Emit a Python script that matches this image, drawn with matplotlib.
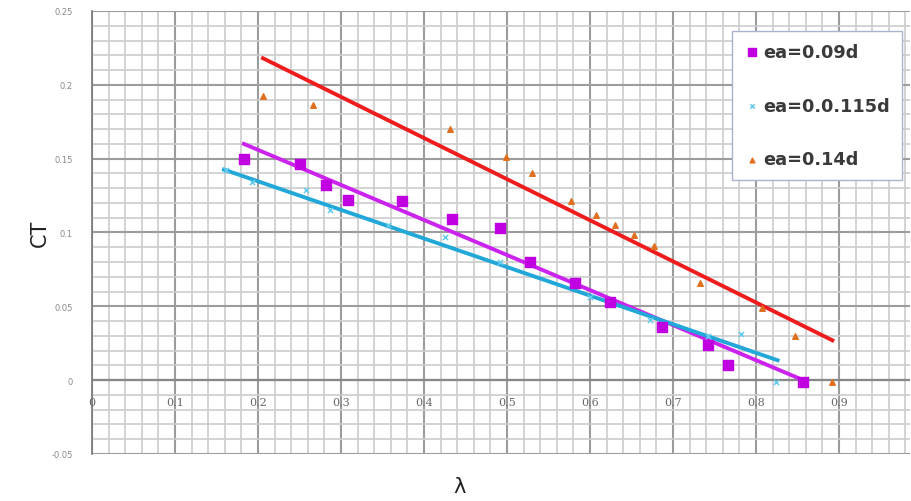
import matplotlib
matplotlib.use("Agg")
import matplotlib.pyplot as plt
from matplotlib.ticker import MultipleLocator
import numpy as np

# data
lam_09 = [0.183, 0.251, 0.282, 0.308, 0.373, 0.434, 0.492, 0.528, 0.582, 0.624, 0.687, 0.742, 0.766, 0.857]
ct_09 = [0.150, 0.1466, 0.132, 0.122, 0.121, 0.109, 0.103, 0.080, 0.066, 0.053, 0.036, 0.024, 0.010, -0.001]
lam_115 = [0.161, 0.193, 0.258, 0.287, 0.357, 0.425, 0.492, 0.600, 0.672, 0.742, 0.782, 0.824]
ct_115 = [0.1426, 0.134, 0.129, 0.115, 0.105, 0.097, 0.080, 0.056, 0.041, 0.030, 0.031, -0.001]
lam_14 = [0.206, 0.266, 0.431, 0.499, 0.530, 0.577, 0.607, 0.630, 0.653, 0.677, 0.733, 0.807, 0.847, 0.892]
ct_14 = [0.1926, 0.1865, 0.170, 0.151, 0.140, 0.121, 0.112, 0.105, 0.098, 0.091, 0.0655, 0.049, 0.030, -0.001]

trend_09_x = [0.183, 0.857]
trend_09_y = [0.160, 0.000]
trend_115_x = [0.159, 0.826]
trend_115_y = [0.1426, 0.0135]
trend_14_x = [0.206, 0.892]
trend_14_y = [0.218, 0.027]

xtick_vals = [0, 0.1, 0.2, 0.3, 0.4, 0.5, 0.6, 0.7, 0.8, 0.9]
xtick_labels = ["0", "0.1", "0.2", "0.3", "0.4", "0.5", "0.6", "0.7", "0.8", "0.9"]
ytick_vals = [-0.05, 0, 0.05, 0.1, 0.15, 0.2, 0.25]
ytick_labels = ["-0.05", "0", "0.05", "0.1", "0.15", "0.2", "0.25"]

fig = plt.figure(figsize=(9.12, 5.02), dpi=100)
ax = fig.add_axes([92/912, 1-455/502, (910-92)/912, (455-12)/502])
ax.set_xlim(0, (910-92)/830)
ax.set_ylim(-0.05, 0.25)

ax.xaxis.set_major_locator(MultipleLocator(0.1))
ax.xaxis.set_minor_locator(MultipleLocator(0.02))
ax.yaxis.set_major_locator(MultipleLocator(0.05))
ax.yaxis.set_minor_locator(MultipleLocator(0.01))
ax.grid(which="major", color="#9c9c9c", linewidth=1.5)
ax.grid(which="minor", color="#cccccc", linewidth=1.2)
ax.set_axisbelow(True)
ax.tick_params(which="both", length=0)
ax.set_xticklabels([])
ax.set_yticks(ytick_vals)
ax.set_yticklabels(ytick_labels, fontsize=6, color="#888888")
ax.tick_params(axis="y", pad=14)
for s in ["top", "right", "bottom"]:
    ax.spines[s].set_visible(False)
ax.spines["left"].set_color("#777777")
ax.spines["left"].set_linewidth(1.2)
ax.axhline(0, color="#888888", linewidth=1.6, zorder=1)

for xv, xl in zip(xtick_vals, xtick_labels):
    ax.text(xv, -0.015, xl, ha="center", va="center", fontsize=8, color="#666666", family="DejaVu Serif")

ax.plot(trend_14_x, trend_14_y, color="#ee1c1c", linewidth=2.8, zorder=3)
ax.plot(trend_09_x, trend_09_y, color="#cc22ee", linewidth=2.8, zorder=3)
ax.plot(trend_115_x, trend_115_y, color="#22a8d8", linewidth=2.8, zorder=3)

ax.scatter(lam_09, ct_09, marker="s", s=45, color="#c000e0", zorder=4, label="ea=0.09d")
ax.scatter(lam_115, ct_115, marker="x", s=14, color="#66ccee", linewidths=1.1, zorder=4, label="ea=0.0.115d")
ax.scatter(lam_14, ct_14, marker="^", s=16, color="#e07020", zorder=4, label="ea=0.14d")

leg = ax.legend(loc="upper right", bbox_to_anchor=((902-92)/818, (455-32)/443), borderaxespad=0,
                prop={"size": 12.8, "weight": "bold", "family": "DejaVu Sans"},
                labelspacing=2.0, handletextpad=0.25, handlelength=0.8, borderpad=0.68, fancybox=False, framealpha=1,
                edgecolor="#aab4cc", labelcolor="#3a3a3a", markerscale=0.85)
leg.get_frame().set_linewidth(1.0)

fig.text(40/912, 1-233/502, "CT", rotation=90, ha="center", va="center", fontsize=15, color="#222222")
fig.text(460/912, 1-487/502, "λ", ha="center", va="center", fontsize=15, color="#222222")

fig.savefig("out.png", dpi=100)
